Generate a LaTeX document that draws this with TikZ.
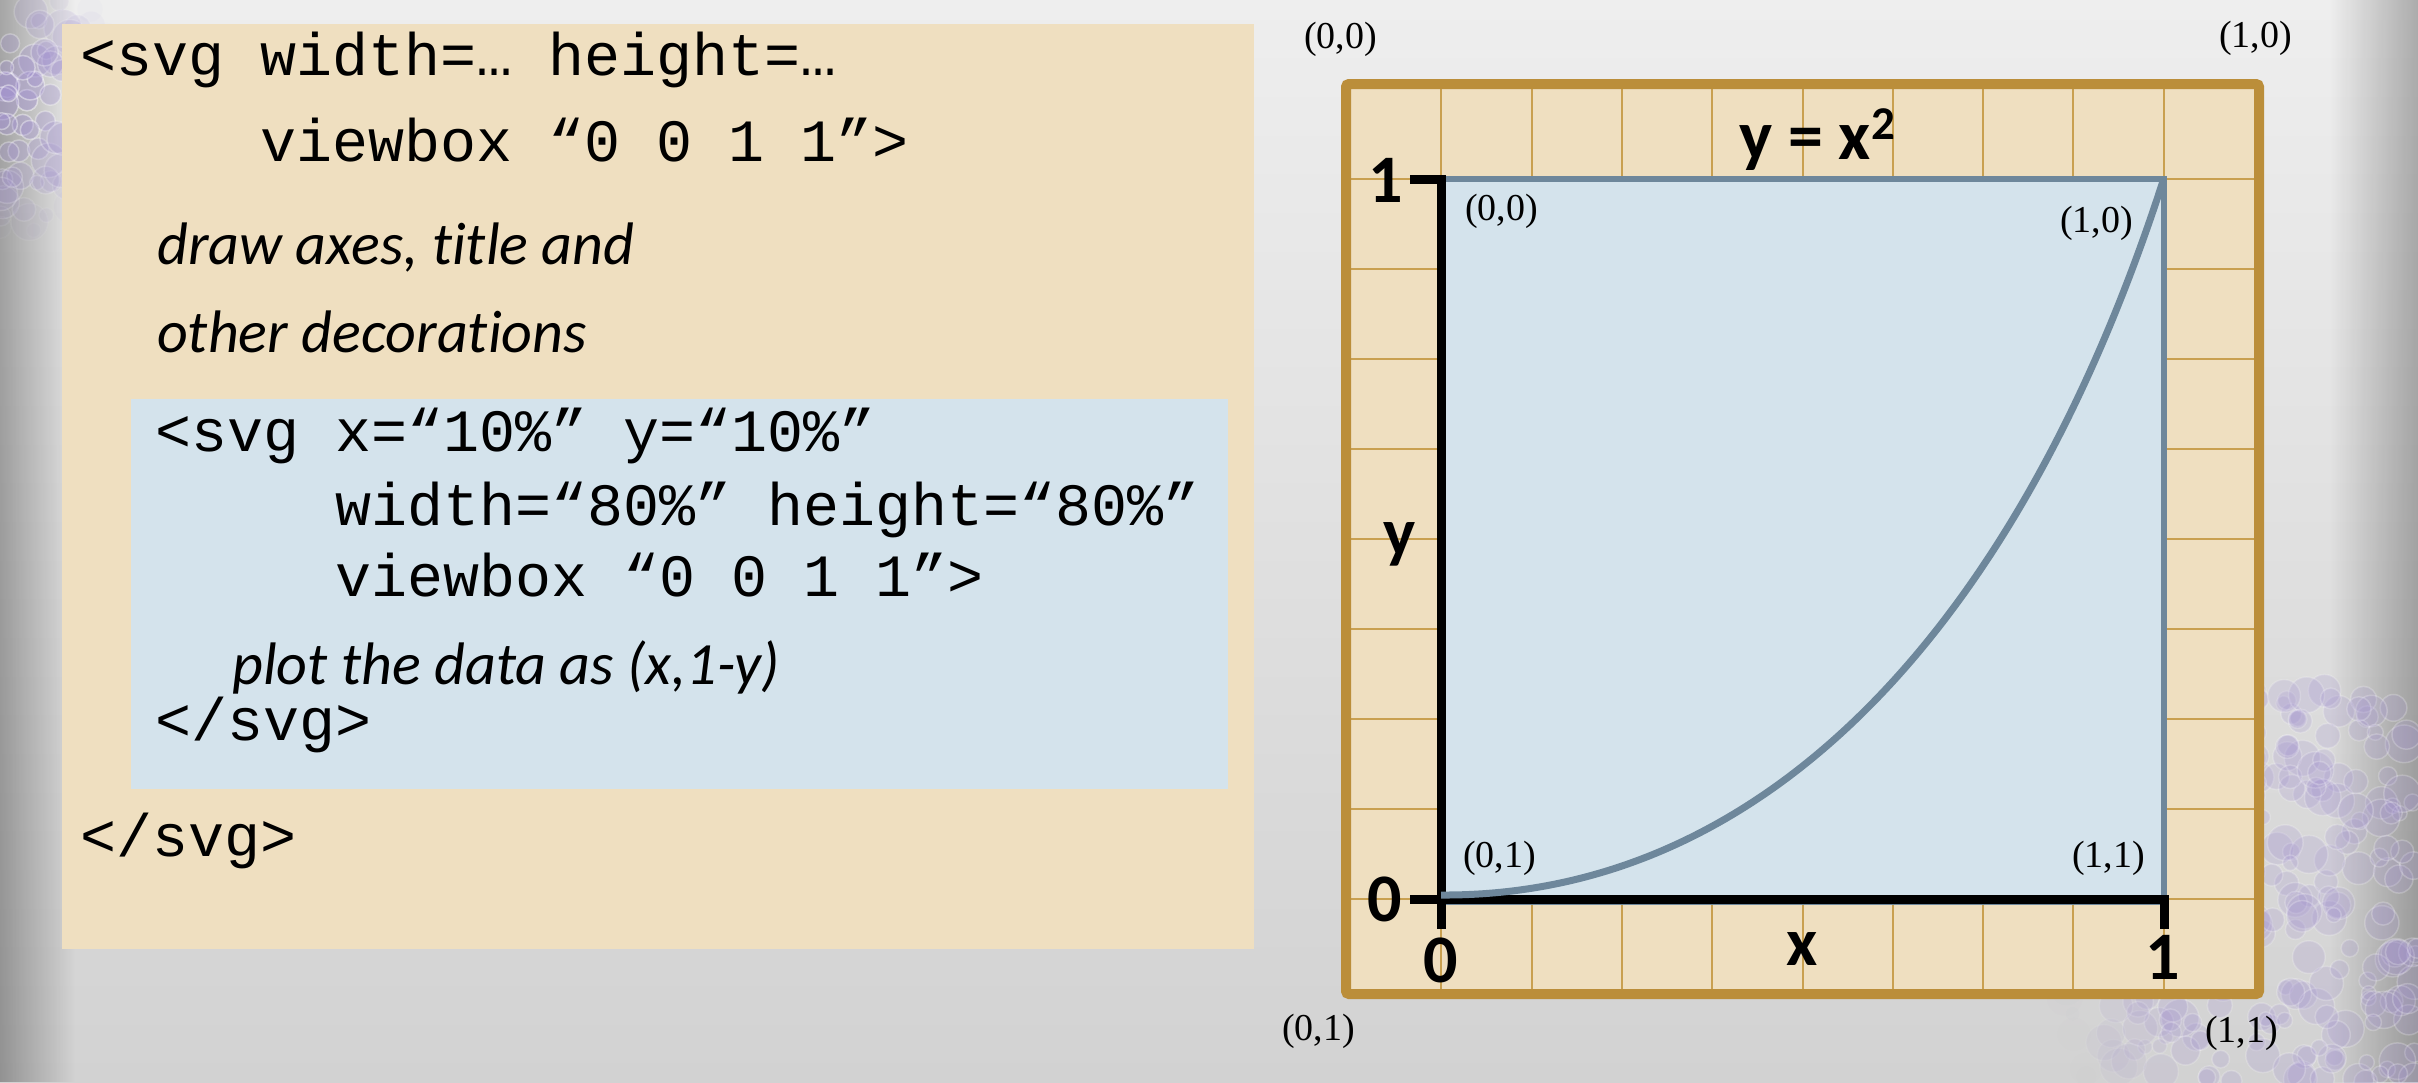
\documentclass[tikz,border=0pt]{standalone}
\usepackage{fontspec}
\setmainfont{Liberation Serif}
\setmonofont{Liberation Mono}
\newfontfamily\calfont[Ligatures=NoCommon]{Carlito}
\usetikzlibrary{fadings}
\definecolor{panelTan}{HTML}{EFDFC0}
\definecolor{plotBlue}{HTML}{D4E3EC}
\definecolor{steelC}{HTML}{6E879B}
\definecolor{frameC}{HTML}{BB8E3A}
\definecolor{gridC}{HTML}{C9A050}
\definecolor{bgTop}{HTML}{EEEEEE}
\definecolor{bgBot}{HTML}{D2D2D2}
\definecolor{bubbleC}{HTML}{A494D0}
\tikzfading[name=fadeR, left color=transparent!0, right color=transparent!100]
\tikzfading[name=fadeL, left color=transparent!100, right color=transparent!0]
\begin{document}
\begin{tikzpicture}[x=1pt,y=-1pt,
  mono/.style={anchor=base west, inner sep=0pt, font=\fontsize{60}{72}\selectfont\ttfamily},
  ital/.style={anchor=base west, inner sep=0pt, font=\fontsize{60}{72}\selectfont\calfont\itshape},
  coord/.style={anchor=base west, inner sep=0pt, font=\fontsize{38}{44}\selectfont\rmfamily},
  axlab/.style={anchor=base, inner sep=0pt, font=\fontsize{68}{80}\selectfont\calfont\bfseries},
  gridline/.style={gridC, line width=2pt},
  bubble/.style={fill=bubbleC, draw=white, line width=1.5pt},
]
\useasboundingbox (0,0) rectangle (2418,1082);
% background
\fill[top color=bgTop, bottom color=bgBot] (0,0) rectangle (2418,1082);
\fill[black, path fading=fadeR, opacity=0.3] (0,0) rectangle (75,1082);
\fill[black, path fading=fadeL, opacity=0.28] (2330,0) rectangle (2418,1082);
% bubbles
\pgfmathsetseed{11}
\foreach \i in {1,...,110}{
  \pgfmathsetmacro{\bx}{rnd*150}
  \pgfmathsetmacro{\by}{rnd*260}
  \pgfmathsetmacro{\br}{7+rnd*12}
  \pgfmathsetmacro{\bo}{max(0,0.5-veclen(\bx-20,(\by-100)*0.7)/200)}
  \path[bubble, fill opacity=\bo, draw opacity=\bo] (\bx,\by) circle (\br);
}
\foreach \i in {1,...,340}{
  \pgfmathsetmacro{\bx}{2060+rnd*358}
  \pgfmathsetmacro{\by}{690+rnd*392}
  \pgfmathsetmacro{\br}{7+rnd*12}
  \pgfmathsetmacro{\bo}{max(0,min(0.22,(370-veclen(\bx-2420,\by-930))/500))}
  \path[bubble, fill opacity=\bo, draw opacity=\bo] (\bx,\by) circle (\br);
}
% left panel
\fill[panelTan] (62,24) rectangle (1254,949);
\fill[plotBlue] (131,399) rectangle (1228,789);
\node[mono] (l1) at (80,75) {<svg width=… height=…};
\node[mono] (l2) at (260,161) {viewbox “0 0 1 1”>};
\node[ital] (l3) at (157,264) {draw axes, title and};
\node[ital] (l4) at (157,352) {other decorations};
\node[mono] (l5) at (155,451) {<svg x=“10\%” y=“10\%”};
\node[mono] (l6) at (335,525) {width=“80\%” height=“80\%”};
\node[mono] (l7) at (335,596) {viewbox “0 0 1 1”>};
\node[ital] (l8) at (232,684) {plot the data as (x,1-y)};
\node[mono] (l9) at (155,740) {</svg>};
\node[mono] (l10) at (80,856) {</svg>};
% right panel
\fill[panelTan] (1351,89) rectangle (2254,989);
\foreach \i in {1,...,9}{
  \draw[gridline] ({1351+\i*90.3},89) -- ({1351+\i*90.3},989);
  \draw[gridline] (1351,{89+\i*90}) -- (2254,{89+\i*90});
}
\filldraw[fill=plotBlue, draw=steelC, line width=6pt] (1441,179) rectangle (2164,902);
\draw[frameC, line width=10pt, rounded corners=3pt] (1346,84) rectangle (2259,994);
\draw[black, line width=9pt] (1410,179) -- (1441,179) -- (1441,929);
\draw[black, line width=9pt] (1410,899) -- (2164,899) -- (2164,929);
\draw[steelC, line width=7pt] (1441,895) .. controls (1766,897) and (2019,626) .. (2163,181);
% labels
\node[anchor=base west, inner sep=0pt, font=\fontsize{70}{80}\selectfont\calfont\bfseries] (title) at (1739,159) {y = x\raisebox{20pt}{\fontsize{47}{47}\selectfont 2}};
\node[axlab] (y1) at (1386,202) {1};
\node[axlab] (y0) at (1385,921) {0};
\node[axlab] (x0) at (1441,982) {0};
\node[axlab] (x1) at (2163,979) {1};
\node[axlab] (xl) at (1802,965) {x};
\node[axlab] (yl) at (1400,555) {y};
\node[coord] (c1) at (1304,48) {(0,0)};
\node[coord] (c2) at (2219,47) {(1,0)};
\node[coord] (c3) at (1465,220) {(0,0)};
\node[coord] (c4) at (2060,232) {(1,0)};
\node[coord] (c5) at (1463,867) {(0,1)};
\node[coord] (c6) at (2072,867) {(1,1)};
\node[coord] (c7) at (1282,1040) {(0,1)};
\node[coord] (c8) at (2205,1042) {(1,1)};
\end{tikzpicture}
\end{document}
